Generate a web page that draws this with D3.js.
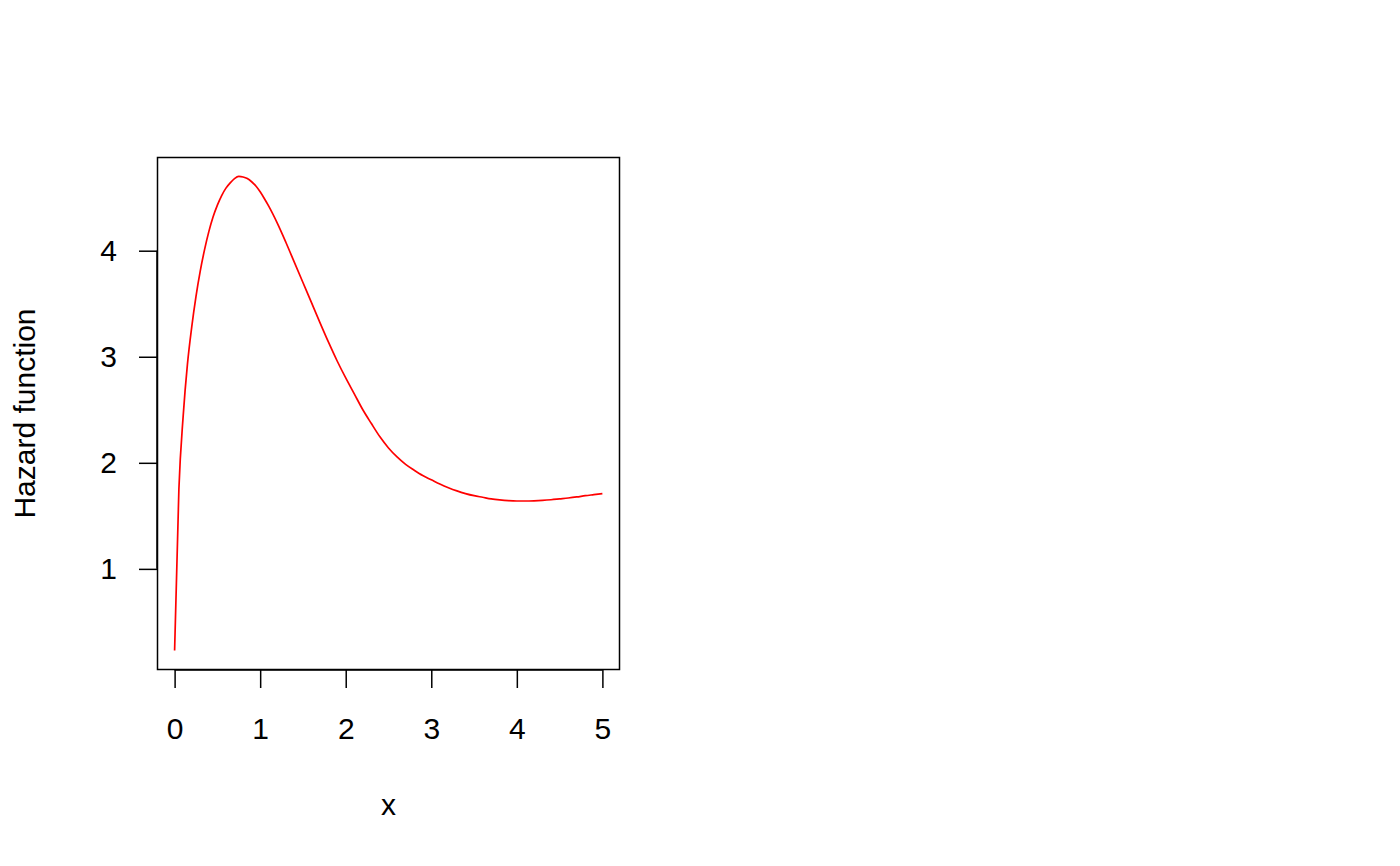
<!DOCTYPE html>
<html>
<head>
<meta charset="utf-8">
<script src="https://cdn.jsdelivr.net/npm/d3@7"></script>
<style>
  html, body { margin: 0; padding: 0; background: #ffffff; }
  svg { display: block; }
  text { font-family: "Liberation Sans", Arial, Helvetica, sans-serif; fill: #000; }
</style>
</head>
<body>
<svg id="chart" width="1400" height="866"></svg>
<script>
// ---- data ----
const xValues = [0, 0.05, 0.1, 0.15, 0.2, 0.25, 0.3, 0.35, 0.4, 0.45, 0.5, 0.55, 0.6, 0.65, 0.7, 0.75, 0.8, 0.85, 0.9, 0.95, 1.0, 1.05,
  1.1, 1.2, 1.3, 1.4, 1.5, 1.6, 1.7, 1.8, 1.9, 2.0, 2.1, 2.2, 2.3, 2.4, 2.5, 2.6, 2.7, 2.8, 2.9, 3.0,
  3.1, 3.2, 3.3, 3.4, 3.5, 3.6, 3.7, 3.8, 3.9, 4.0, 4.1, 4.2, 4.3, 4.4, 4.5, 4.6, 4.7, 4.8, 4.9, 5.0];
const hazard = [0.23, 1.75, 2.44, 2.93, 3.28, 3.57, 3.81, 4.01, 4.18, 4.32, 4.43, 4.52, 4.59, 4.64, 4.68, 4.70, 4.695, 4.68, 4.65, 4.61, 4.555, 4.49,
  4.42, 4.26, 4.08, 3.89, 3.70, 3.51, 3.32, 3.135, 2.96, 2.80, 2.65, 2.50, 2.37, 2.245, 2.14, 2.055, 1.985, 1.93, 1.88, 1.84,
  1.80, 1.765, 1.735, 1.71, 1.69, 1.675, 1.66, 1.65, 1.643, 1.64, 1.64, 1.642, 1.646, 1.652, 1.66, 1.668, 1.678, 1.69, 1.70, 1.71];
const xTicks = [0, 1, 2, 3, 4, 5];
const yTicks = [1, 2, 3, 4];
const xLabel = "x";
const yLabel = "Hazard function";

// ---- layout ----
const box = { left: 157.5, right: 619.5, top: 157.5, bottom: 669.5 };
const FS = 30;
const svg = d3.select("#chart");

const xr = d3.extent(xValues), xpad = (xr[1] - xr[0]) * 0.04;
const yr = d3.extent(hazard), ypad = (yr[1] - yr[0]) * 0.04;

const x = d3.scaleLinear().domain([xr[0] - xpad, xr[1] + xpad]).range([box.left, box.right]);
const y = d3.scaleLinear().domain([yr[0] - ypad, yr[1] + ypad]).range([box.bottom, box.top]);

// curve
const line = d3.line()
  .x((d, i) => x(xValues[i]))
  .y(d => y(d))
  .curve(d3.curveMonotoneX);

svg.append("path")
  .datum(hazard)
  .attr("d", line)
  .attr("fill", "none")
  .attr("stroke", "#ff0000")
  .attr("stroke-width", 1.7);

// box
svg.append("rect")
  .attr("x", box.left).attr("y", box.top)
  .attr("width", box.right - box.left).attr("height", box.bottom - box.top)
  .attr("fill", "none").attr("stroke", "#000").attr("stroke-width", 1.5);

// x axis (R style: line spans first to last tick)
const xAxis = d3.axisBottom(x).tickValues(xTicks).tickSize(18).tickPadding(30).tickFormat(d3.format("d"));
const gx = svg.append("g").attr("transform", `translate(0,${box.bottom + 0.5})`).call(xAxis);
gx.attr("font-size", FS).attr("font-family", "Liberation Sans, Arial, sans-serif");
gx.select(".domain").attr("d", `M${x(xTicks[0])},0H${x(xTicks[xTicks.length - 1])}`).attr("stroke-width", 1.5);
gx.selectAll(".tick line").attr("stroke-width", 1.5);

// y axis
const yAxis = d3.axisLeft(y).tickValues(yTicks).tickSize(18).tickPadding(22).tickFormat(d3.format("d"));
const gy = svg.append("g").attr("transform", `translate(${box.left - 0.5},0)`).call(yAxis);
gy.attr("font-size", FS).attr("font-family", "Liberation Sans, Arial, sans-serif");
gy.select(".domain").attr("d", `M0,${y(yTicks[0])}V${y(yTicks[yTicks.length - 1])}`).attr("stroke-width", 1.5);
gy.selectAll(".tick line").attr("stroke-width", 1.5);

// axis titles
svg.append("text")
  .attr("x", (box.left + box.right) / 2).attr("y", 815)
  .attr("text-anchor", "middle").attr("font-size", FS)
  .text(xLabel);

svg.append("text")
  .attr("transform", `translate(35,${(box.top + box.bottom) / 2}) rotate(-90)`)
  .attr("text-anchor", "middle").attr("font-size", FS)
  .text(yLabel);
</script>
</body>
</html>
